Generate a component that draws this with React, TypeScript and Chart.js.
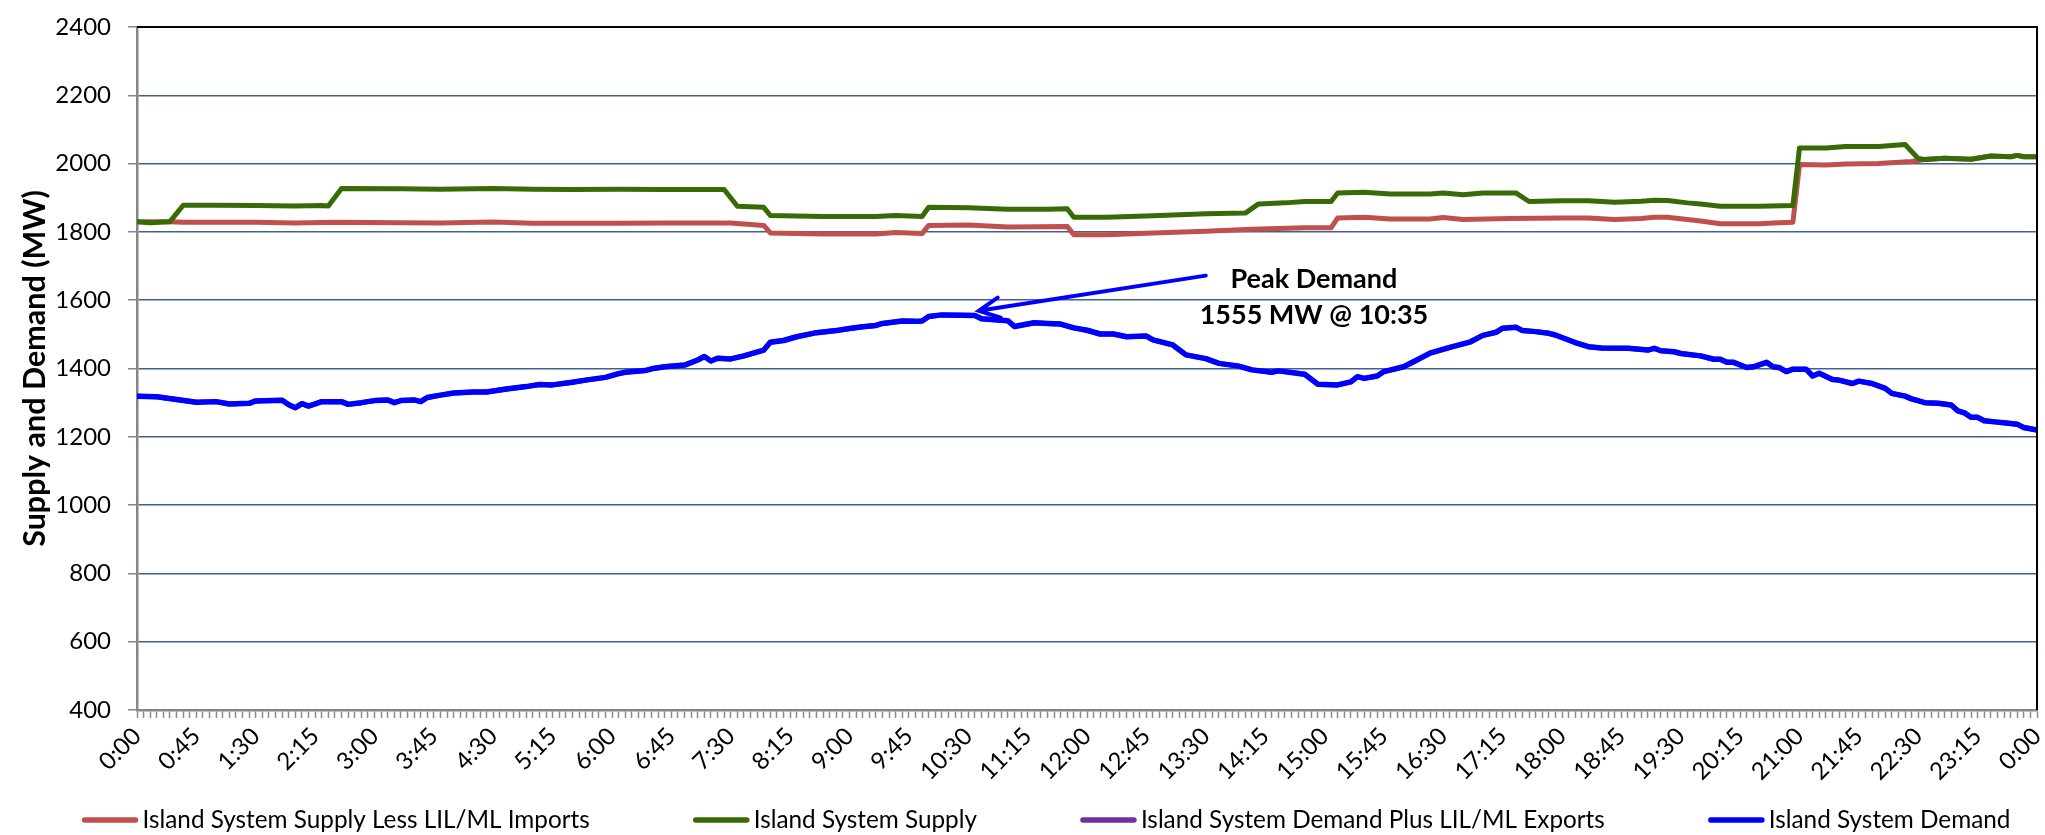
import React, { useEffect, useRef } from 'react';
import { Chart, registerables } from 'chart.js';

Chart.register(...registerables);

const FONT = 'Lato, "Open Sans", sans-serif';

// ---------- data (times of day, MW) ----------
const supplyLessImportsTimes = ['0:00','0:25','0:35','1:30','2:00','2:30','3:20','3:50','4:30','5:00','6:05','6:40','7:30','7:55','8:00','8:40','9:20','9:35','9:55','10:00','10:30','11:00','11:45','11:50','12:15','12:50','13:30','14:05','14:45','15:05','15:10','15:30','15:50','16:20','16:30','16:45','17:20','18:00','18:20','18:40','19:00','19:10','19:20','19:35','19:45','20:00','20:30','20:40','20:55','21:00','21:20','21:35','22:00','22:25','22:35','22:50','23:10','23:25','23:40','23:45','23:50','24:00'];
const supplyLessImportsValues = [1830,1830,1828,1828,1826,1828,1827,1826,1829,1825,1825,1826,1826,1819,1797,1794,1794,1798,1795,1819,1820,1814,1816,1792,1792,1797,1802,1808,1812,1812,1841,1843,1838,1838,1842,1836,1839,1841,1841,1836,1839,1843,1843,1836,1832,1824,1824,1826,1828,1997,1996,1999,2000,2006,2012,2016,2013,2022,2020,2024,2020,2020];

const supplyTimes = ['0:00','0:10','0:20','0:25','0:35','1:00','1:30','2:00','2:20','2:25','2:35','3:20','3:50','4:30','5:00','5:30','6:05','6:40','7:25','7:35','7:55','8:00','8:40','9:20','9:35','9:55','10:00','10:30','11:00','11:30','11:45','11:50','12:15','12:50','13:30','14:00','14:10','14:30','14:45','15:05','15:10','15:30','15:50','16:20','16:30','16:45','17:00','17:25','17:35','18:00','18:20','18:40','19:00','19:10','19:20','19:35','19:45','20:00','20:30','20:55','21:00','21:20','21:35','22:00','22:20','22:30','22:35','22:50','23:10','23:25','23:40','23:45','23:50','24:00'];
const supplyValues = [1830,1827,1829,1830,1878,1878,1877,1876,1877,1876,1927,1926,1925,1927,1925,1924,1925,1924,1924,1875,1872,1848,1845,1845,1848,1845,1872,1871,1866,1866,1868,1843,1843,1847,1853,1855,1882,1885,1889,1889,1914,1916,1911,1911,1914,1909,1914,1914,1889,1891,1891,1887,1890,1893,1892,1885,1882,1875,1875,1877,2046,2046,2050,2050,2056,2015,2012,2016,2013,2022,2020,2024,2020,2020];

const demandTimes = ['0:00','0:15','0:30','0:45','1:00','1:10','1:25','1:30','1:50','1:55','2:00','2:05','2:10','2:20','2:35','2:40','2:50','3:00','3:10','3:15','3:20','3:30','3:35','3:40','3:50','4:00','4:15','4:25','4:40','4:55','5:05','5:15','5:30','5:40','5:55','6:05','6:10','6:25','6:30','6:40','6:55','7:05','7:10','7:15','7:20','7:30','7:40','7:55','8:00','8:10','8:20','8:35','8:50','9:00','9:10','9:20','9:25','9:40','9:50','9:55','10:00','10:10','10:25','10:35','10:40','10:55','11:00','11:05','11:20','11:30','11:40','11:50','12:00','12:10','12:20','12:30','12:45','12:50','13:05','13:15','13:30','13:40','13:55','14:05','14:20','14:25','14:45','14:55','15:10','15:20','15:25','15:30','15:40','15:45','16:00','16:10','16:20','16:35','16:50','17:00','17:10','17:15','17:25','17:30','17:40','17:50','17:55','18:10','18:20','18:30','18:50','19:05','19:10','19:15','19:25','19:30','19:45','19:55','20:00','20:05','20:10','20:20','20:25','20:35','20:40','20:45','20:50','20:55','21:05','21:10','21:15','21:25','21:30','21:40','21:45','21:55','22:05','22:10','22:20','22:25','22:35','22:45','22:55','23:00','23:05','23:10','23:15','23:20','23:30','23:35','23:45','23:50','24:00'];
const demandValues = [1319,1317,1309,1301,1303,1296,1298,1305,1307,1294,1285,1297,1290,1303,1303,1295,1300,1306,1308,1300,1306,1308,1303,1315,1322,1328,1331,1331,1340,1347,1353,1352,1360,1366,1374,1385,1389,1394,1399,1405,1410,1425,1435,1422,1430,1428,1437,1454,1477,1482,1493,1505,1511,1517,1522,1526,1532,1539,1538,1539,1552,1557,1556,1555,1546,1541,1540,1523,1534,1532,1530,1519,1512,1501,1501,1493,1495,1484,1469,1440,1429,1415,1407,1396,1389,1393,1383,1354,1352,1361,1376,1371,1378,1391,1405,1425,1445,1462,1477,1497,1506,1518,1521,1511,1508,1503,1498,1476,1464,1460,1459,1454,1459,1452,1449,1444,1437,1427,1427,1418,1418,1403,1405,1418,1405,1402,1391,1398,1398,1378,1386,1368,1366,1356,1363,1356,1342,1327,1319,1311,1300,1298,1293,1276,1270,1257,1257,1247,1243,1241,1237,1227,1220];

// Demand plus exports is hidden under demand in the picture (no exports): same readings.
const demandPlusExportsTimes = demandTimes;
const demandPlusExportsValues = demandValues;

const seriesLabels = [
  'Island System Supply Less LIL/ML Imports',
  'Island System Supply',
  'Island System Demand Plus LIL/ML Exports',
  'Island System Demand',
];
const seriesColors = ['#C0504D', '#386A05', '#7030A0', '#0000FF'];

const yMin = 400;
const yMax = 2400;
const yStep = 200;
const xLabelEvery = 45; // minutes
const xTickEvery = 5; // minutes

const peakText = ['Peak Demand', '1555 MW @ 10:35'];
const peakArrowTip = { t: '10:38', v: 1569 };
const peakArrowTail = { t: '13:30', v: 1672 };
const peakTextAt = { t: '14:52', v1: 1662, v2: 1557 };

// ---------- helpers ----------
const toMin = (s: string) => {
  const [h, m] = s.split(':').map(Number);
  return h * 60 + m;
};
const pts = (times: string[], vals: number[]) => times.map((t, i) => ({ x: toMin(t), y: vals[i] }));
const fmtTime = (v: number) => {
  const m = Math.round(v) % 1440;
  const h = Math.floor(m / 60);
  const mm = m % 60;
  return `${h}:${mm < 10 ? '0' : ''}${mm}`;
};

const framePlugin = {
  id: 'frame',
  afterDraw(chart: any) {
    const { ctx, chartArea: a } = chart;
    ctx.save();
    ctx.strokeStyle = '#000';
    ctx.lineWidth = 2;
    ctx.beginPath();
    ctx.moveTo(a.left, a.top);
    ctx.lineTo(a.right, a.top);
    ctx.lineTo(a.right, a.bottom);
    ctx.stroke();
    ctx.restore();
  },
};

const annotationPlugin = {
  id: 'peakAnnotation',
  afterDatasetsDraw(chart: any) {
    const { ctx, scales } = chart;
    const xs = scales.x;
    const ys = scales.y;
    const tx = xs.getPixelForValue(toMin(peakArrowTip.t));
    const ty = ys.getPixelForValue(peakArrowTip.v);
    const fx = xs.getPixelForValue(toMin(peakArrowTail.t));
    const fy = ys.getPixelForValue(peakArrowTail.v);
    ctx.save();
    ctx.strokeStyle = '#0000FF';
    ctx.lineWidth = 4;
    ctx.lineCap = 'round';
    ctx.beginPath();
    ctx.moveTo(fx, fy);
    ctx.lineTo(tx, ty);
    const ang = Math.atan2(fy - ty, fx - tx);
    const len = 23;
    const spread = (26 * Math.PI) / 180;
    ctx.moveTo(tx + len * Math.cos(ang - spread), ty + len * Math.sin(ang - spread));
    ctx.lineTo(tx, ty);
    ctx.lineTo(tx + len * Math.cos(ang + spread), ty + len * Math.sin(ang + spread));
    ctx.stroke();
    ctx.fillStyle = '#000';
    ctx.font = `bold 27px ${FONT}`;
    ctx.textAlign = 'center';
    ctx.textBaseline = 'middle';
    const cx = xs.getPixelForValue(toMin(peakTextAt.t));
    ctx.fillText(peakText[0], cx, ys.getPixelForValue(peakTextAt.v1));
    ctx.fillText(peakText[1], cx, ys.getPixelForValue(peakTextAt.v2));
    ctx.restore();
  },
};

const legendPlugin = {
  id: 'rowLegend',
  afterDraw(chart: any) {
    const { ctx, width } = chart;
    const size = 24.3;
    const lineLen = 55;
    const gapText = 5;
    const itemGap = 104;
    const centerShift = 24;
    const y = 820;
    ctx.save();
    ctx.font = `${size}px ${FONT}`;
    const widths = seriesLabels.map((l) => lineLen + gapText + ctx.measureText(l).width);
    const total = widths.reduce((s, w) => s + w, 0) + itemGap * (widths.length - 1);
    let x = (width - total) / 2 + centerShift;
    seriesLabels.forEach((l, i) => {
      ctx.strokeStyle = seriesColors[i];
      ctx.lineWidth = 5.5;
      ctx.lineCap = 'round';
      ctx.beginPath();
      ctx.moveTo(x + 2, y);
      ctx.lineTo(x + lineLen - 2, y);
      ctx.stroke();
      ctx.fillStyle = '#000';
      ctx.textAlign = 'left';
      ctx.textBaseline = 'middle';
      ctx.fillText(l, x + lineLen + gapText, y);
      x += widths[i] + itemGap;
    });
    ctx.restore();
  },
};

export default function App() {
  const ref = useRef<HTMLCanvasElement | null>(null);

  useEffect(() => {
    if (!ref.current) return;
    const mk = (i: number, data: any[], order: number) => ({
      label: seriesLabels[i],
      data,
      borderColor: seriesColors[i],
      backgroundColor: seriesColors[i],
      borderWidth: i === 3 ? 5.5 : 5,
      pointRadius: 0,
      tension: 0,
      borderJoinStyle: 'round' as const,
      borderCapStyle: 'round' as const,
      order,
    });
    const chart = new Chart(ref.current, {
      type: 'line',
      data: {
        datasets: [
          mk(0, pts(supplyLessImportsTimes, supplyLessImportsValues), 4),
          mk(1, pts(supplyTimes, supplyValues), 2),
          mk(2, pts(demandPlusExportsTimes, demandPlusExportsValues), 3),
          mk(3, pts(demandTimes, demandValues), 1),
        ],
      },
      options: {
        animation: false,
        responsive: false,
        devicePixelRatio: 1,
        layout: { padding: { top: 27, right: 8, left: 0, bottom: 0 } },
        plugins: {
          legend: { display: false },
          tooltip: { enabled: false },
        },
        scales: {
          x: {
            type: 'linear',
            min: 0,
            max: 1440,
            ticks: {
              stepSize: xTickEvery,
              autoSkip: false,
              minRotation: 45,
              maxRotation: 45,
              padding: 4,
              color: '#000',
              font: { size: 24, family: FONT },
              callback: (v: any) => (Number(v) % xLabelEvery === 0 ? fmtTime(Number(v)) : ''),
            },
            grid: {
              drawOnChartArea: false,
              drawTicks: true,
              tickLength: 8,
              tickColor: '#8c8c8c',
              tickWidth: 1.5,
            },
            border: { display: true, color: '#868686', width: 2.5 },
            afterFit: (s: any) => {
              s.height = 125;
              s.paddingLeft = 0;
              s.paddingRight = 0;
            },
          },
          y: {
            min: yMin,
            max: yMax,
            ticks: {
              stepSize: yStep,
              padding: 17,
              color: '#000',
              font: { size: 24, family: FONT },
              callback: (v: any) => String(v),
            },
            grid: {
              color: '#41618f',
              lineWidth: 1.5,
              drawTicks: true,
              tickLength: 9,
              tickColor: '#868686',
              tickWidth: 1.5,
            },
            border: { display: true, color: '#868686', width: 2.5 },
            title: {
              display: true,
              text: 'Supply and Demand (MW)',
              color: '#000',
              font: { size: 30.5, weight: 'bold', family: FONT },
              padding: { top: 17, bottom: 0 },
            },
            afterFit: (s: any) => {
              s.width = 137;
              s.paddingTop = 0;
              s.paddingBottom = 0;
            },
          },
        },
      },
      plugins: [annotationPlugin, framePlugin, legendPlugin],
    });
    return () => chart.destroy();
  }, []);

  return (
    <canvas
      ref={ref}
      width={2045}
      height={835}
      style={{ display: 'block', position: 'absolute', left: 0, top: 0, width: 2045, height: 835 }}
    />
  );
}
